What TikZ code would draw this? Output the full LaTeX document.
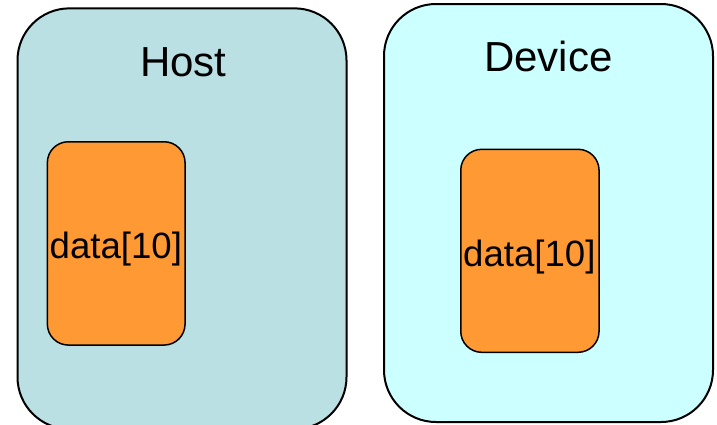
\documentclass[tikz,border=0pt]{standalone}
\usepackage{fontspec}
\setmainfont{Liberation Sans}
\definecolor{hostfill}{HTML}{BBE0E3}
\definecolor{devfill}{HTML}{CCFFFF}
\definecolor{datafill}{HTML}{FF9933}
\begin{document}
\begin{tikzpicture}[x=1pt,y=-1pt,
  outerbox/.style={draw=black, line width=2pt, rounded corners=52pt, inner sep=0pt},
  databox/.style={draw=black, line width=1.5pt, fill=datafill, rounded corners=21pt, inner sep=0pt},
  title/.style={font=\fontsize{42}{42}\selectfont, anchor=base, inner sep=0pt},
  datalabel/.style={font=\fontsize{36.6}{36.6}\selectfont, anchor=base, inner sep=0pt}]
\useasboundingbox (0,0) rectangle (717,424);
\node[outerbox, fill=hostfill, minimum width=329pt, minimum height=420.7pt] (host) at (182,218.7) {};
\node[outerbox, fill=devfill, minimum width=329pt, minimum height=418pt] (device) at (548.5,213) {};
\node[databox, minimum width=137.7pt, minimum height=203.3pt] (hdata) at (116.2,243.4) {};
\node[databox, minimum width=138.3pt, minimum height=203pt] (ddata) at (529.9,250.8) {};
\node[title] (hostlabel) at (183.4,76) {Host};
\node[title] (devlabel) at (548.4,71.7) {Device};
\node[datalabel] (hdatalabel) at (115.8,258.3) {data[10]};
\node[datalabel] (ddatalabel) at (529.3,266) {data[10]};
\end{tikzpicture}
\end{document}
